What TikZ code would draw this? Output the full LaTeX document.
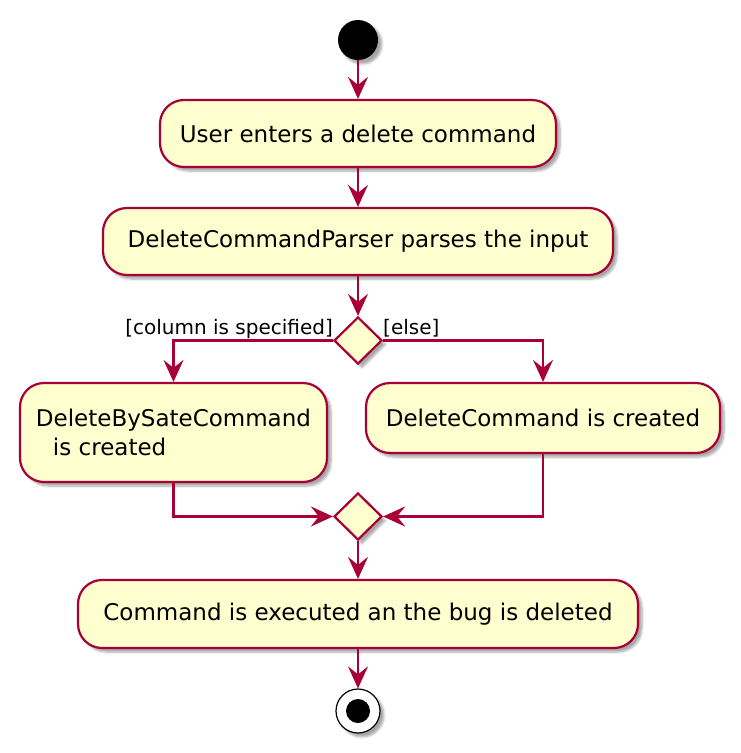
\documentclass[tikz,border=0pt]{standalone}
\usepackage{fontspec}
\setmainfont{DejaVu Sans}
\usetikzlibrary{shapes.geometric,arrows.meta,shadows.blur}
\definecolor{umlborder}{HTML}{A80036}
\definecolor{umlfill}{HTML}{FEFECE}
\tikzset{
  shd/.style={blur shadow={shadow blur steps=6, shadow xshift=4pt, shadow yshift=-4pt, shadow opacity=35}},
  actbox/.style={draw=umlborder, fill=umlfill, line width=2.2pt, rounded corners=24pt, inner sep=0pt, shd, font=\fontsize{23}{29}\selectfont},
  decide/.style={diamond, draw=umlborder, fill=umlfill, line width=2.2pt, inner sep=0pt, minimum width=48pt, minimum height=47pt, shd},
  flow/.style={draw=umlborder, line width=2.2pt, -{Stealth[length=22pt, width=20pt, inset=8pt]}},
  guard/.style={inner sep=0pt, font=\fontsize{20}{24}\selectfont},
}
\begin{document}
\begin{tikzpicture}[x=1pt,y=-1pt]
\useasboundingbox (0,0) rectangle (740,753);
\node[circle, fill=black, minimum size=40pt, inner sep=0pt, shd] (start) at (358,40) {};
\node[actbox, minimum width=396pt, minimum height=67pt] (b1) at (358,133.5) {User enters a delete command};
\node[actbox, minimum width=510pt, minimum height=67pt] (b2) at (358,241.5) {DeleteCommandParser parses the input};
\node[decide] (d1) at (358,340.5) {};
\node[actbox, minimum width=307pt, minimum height=99pt, align=left] (b3) at (173.5,432.5) {DeleteBySateCommand\\\hspace*{17pt}is created};
\node[actbox, minimum width=354pt, minimum height=70pt] (b4) at (543,418) {DeleteCommand is created};
\node[decide] (d2) at (358,516.5) {};
\node[actbox, minimum width=560pt, minimum height=68pt] (b5) at (358,614) {Command is executed an the bug is deleted};
\node[circle, draw=black, fill=white, line width=1.2pt, minimum size=44pt, inner sep=0pt, shd] (stop) at (358,711) {};
\node[circle, fill=black, minimum size=24pt, inner sep=0pt] (stopin) at (stop) {};
\node[guard, anchor=base east] (g1) at (333,334) {[column is specified]};
\node[guard, anchor=base west] (g2) at (383,334) {[else]};
\draw[flow] (start) -- (b1);
\draw[flow] (b1) -- (b2);
\draw[flow] (b2) -- (d1);
\draw[flow] (d1.west) -| (b3.north);
\draw[flow] (d1.east) -| (b4.north);
\draw[flow] (b3.south) |- (d2.west);
\draw[flow] (b4.south) |- (d2.east);
\draw[flow] (d2) -- (b5);
\draw[flow] (b5) -- (stop);
\end{tikzpicture}
\end{document}
